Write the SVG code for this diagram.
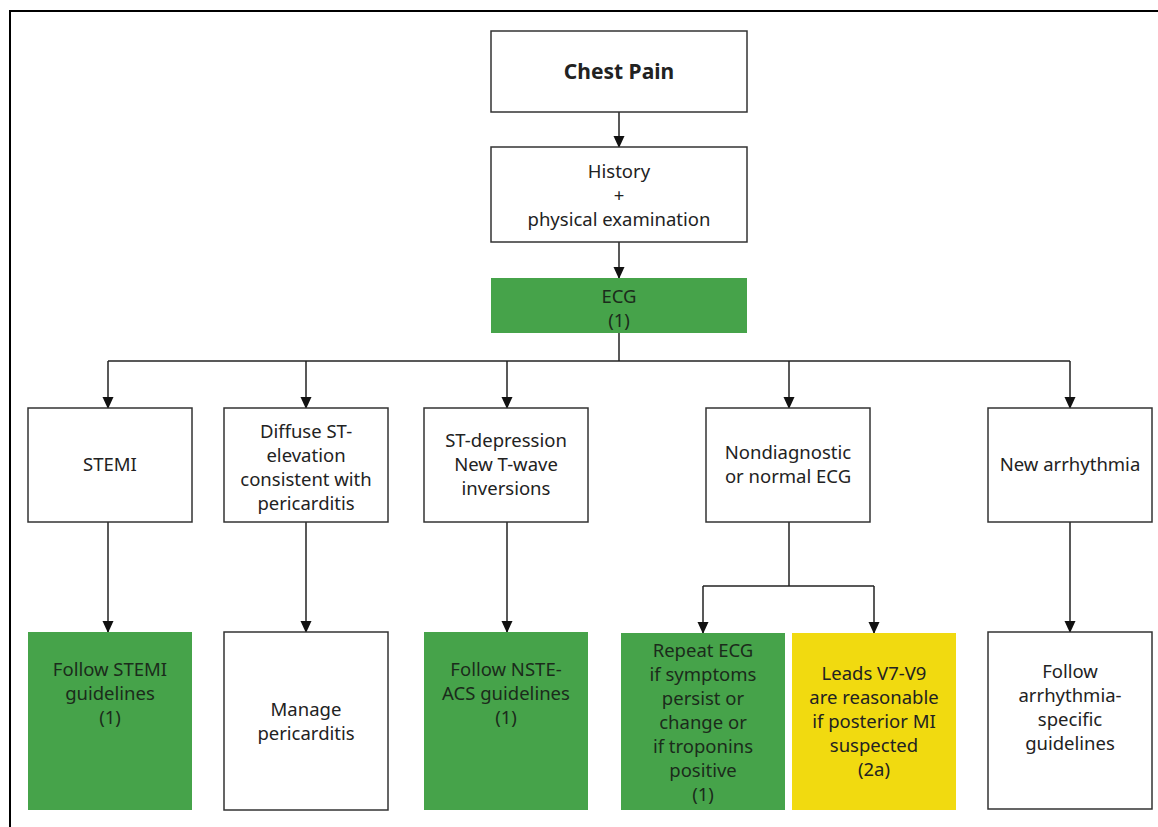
<svg xmlns="http://www.w3.org/2000/svg" width="1158" height="827" viewBox="0 0 1158 827">
<style>
.box{fill:#fff;stroke:#333;stroke-width:1.5}
.green{fill:#46a34a;stroke:none}
.yellow{fill:#f1da10;stroke:none}
text{font-family:"Noto Sans","Open Sans",sans-serif;font-size:18.5px;fill:#222;text-anchor:middle}
.gt{fill:#1b2b1b}
.bold{font-weight:bold;font-size:21px}
.conn{fill:none;stroke:#222;stroke-width:1.5}
</style>
<defs>
<marker id="arr" markerWidth="12" markerHeight="12" refX="11" refY="6" orient="auto" markerUnits="userSpaceOnUse">
<path d="M0,0.5 L12,6 L0,11.5 Z" fill="#111"/>
</marker>
</defs>
<rect x="0" y="0" width="1158" height="827" fill="#fff"/>
<path d="M10,827 V11 H1158" fill="none" stroke="#000" stroke-width="2"/>

<g id="connectors">
<path class="conn" d="M619,112 V147" marker-end="url(#arr)"/>
<path class="conn" d="M619,242 V278" marker-end="url(#arr)"/>
<path class="conn" d="M619,333 V361"/>
<path class="conn" d="M108,361 H1070"/>
<path class="conn" d="M108,361 V408" marker-end="url(#arr)"/>
<path class="conn" d="M306,361 V408" marker-end="url(#arr)"/>
<path class="conn" d="M507,361 V408" marker-end="url(#arr)"/>
<path class="conn" d="M789,361 V408" marker-end="url(#arr)"/>
<path class="conn" d="M1070,361 V408" marker-end="url(#arr)"/>
<path class="conn" d="M108,522 V632" marker-end="url(#arr)"/>
<path class="conn" d="M306,522 V632" marker-end="url(#arr)"/>
<path class="conn" d="M507,522 V632" marker-end="url(#arr)"/>
<path class="conn" d="M1070,522 V632" marker-end="url(#arr)"/>
<path class="conn" d="M789,522 V586"/>
<path class="conn" d="M703,586 H874"/>
<path class="conn" d="M703,586 V633" marker-end="url(#arr)"/>
<path class="conn" d="M874,586 V633" marker-end="url(#arr)"/>
</g>

<g id="chest-pain">
<rect class="box" x="491" y="31" width="256" height="81"/>
<text class="bold" x="619" y="79">Chest Pain</text>
</g>
<g id="history">
<rect class="box" x="491" y="147" width="256" height="95"/>
<text x="619" y="178">History</text>
<text x="619" y="202">+</text>
<text x="619" y="226">physical examination</text>
</g>
<g id="ecg">
<rect class="green" x="491" y="278" width="256" height="55"/>
<text class="gt" x="619" y="303">ECG</text>
<text class="gt" x="619" y="327">(1)</text>
</g>

<g id="stemi">
<rect class="box" x="28" y="408" width="164" height="114"/>
<text x="110" y="471">STEMI</text>
</g>
<g id="diffuse">
<rect class="box" x="224" y="408" width="164" height="114"/>
<text x="306" y="438">Diffuse ST-</text>
<text x="306" y="462">elevation</text>
<text x="306" y="486">consistent with</text>
<text x="306" y="510">pericarditis</text>
</g>
<g id="st-depression">
<rect class="box" x="424" y="408" width="164" height="114"/>
<text x="506" y="447">ST-depression</text>
<text x="506" y="471">New T-wave</text>
<text x="506" y="495">inversions</text>
</g>
<g id="nondiagnostic">
<rect class="box" x="706" y="408" width="164" height="114"/>
<text x="788" y="459">Nondiagnostic</text>
<text x="788" y="483">or normal ECG</text>
</g>
<g id="new-arrhythmia">
<rect class="box" x="988" y="408" width="164" height="114"/>
<text x="1070" y="471">New arrhythmia</text>
</g>

<g id="follow-stemi">
<rect class="green" x="28" y="632" width="164" height="178"/>
<text class="gt" x="110" y="676">Follow STEMI</text>
<text class="gt" x="110" y="700">guidelines</text>
<text class="gt" x="110" y="724">(1)</text>
</g>
<g id="manage-pericarditis">
<rect class="box" x="224" y="632" width="164" height="178"/>
<text x="306" y="716">Manage</text>
<text x="306" y="740">pericarditis</text>
</g>
<g id="follow-nste">
<rect class="green" x="424" y="632" width="164" height="178"/>
<text class="gt" x="506" y="676">Follow NSTE-</text>
<text class="gt" x="506" y="700">ACS guidelines</text>
<text class="gt" x="506" y="724">(1)</text>
</g>
<g id="repeat-ecg">
<rect class="green" x="621" y="633" width="164" height="177"/>
<text class="gt" x="703" y="657">Repeat ECG</text>
<text class="gt" x="703" y="681">if symptoms</text>
<text class="gt" x="703" y="705">persist or</text>
<text class="gt" x="703" y="729">change or</text>
<text class="gt" x="703" y="753">if troponins</text>
<text class="gt" x="703" y="777">positive</text>
<text class="gt" x="703" y="801">(1)</text>
</g>
<g id="leads">
<rect class="yellow" x="792" y="633" width="164" height="177"/>
<text x="874" y="680">Leads V7-V9</text>
<text x="874" y="704">are reasonable</text>
<text x="874" y="728">if posterior MI</text>
<text x="874" y="752">suspected</text>
<text x="874" y="776">(2a)</text>
</g>
<g id="follow-arrhythmia">
<rect class="box" x="988" y="632" width="164" height="177"/>
<text x="1070" y="678">Follow</text>
<text x="1070" y="702">arrhythmia-</text>
<text x="1070" y="726">specific</text>
<text x="1070" y="750">guidelines</text>
</g>
</svg>
